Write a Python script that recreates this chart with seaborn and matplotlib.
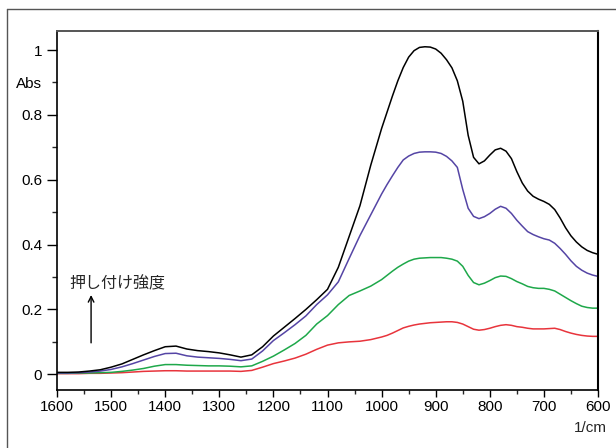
import matplotlib
matplotlib.use("Agg")
import numpy as np
import pandas as pd
import seaborn as sns
import matplotlib.pyplot as plt
from matplotlib.lines import Line2D

# 1600..1000 every 20 cm-1, then 990..600 every 10 cm-1
wavenumber = list(range(1600, 999, -20)) + list(range(990, 599, -10))

black = [0.006, 0.006, 0.007, 0.010, 0.014, 0.022, 0.032, 0.046, 0.060, 0.073,
         0.085, 0.087, 0.078, 0.073, 0.070, 0.066, 0.060, 0.053, 0.060, 0.085,
         0.118, 0.145, 0.172, 0.200, 0.230, 0.262, 0.330, 0.425, 0.520, 0.645,
         0.758,
         0.808, 0.858, 0.905, 0.946, 0.978, 0.998, 1.008, 1.010, 1.009, 1.003,
         0.990, 0.970, 0.945, 0.905, 0.842, 0.737, 0.669, 0.649, 0.658, 0.676,
         0.692, 0.697, 0.688, 0.665, 0.625, 0.590, 0.565, 0.549, 0.540, 0.533,
         0.524, 0.508, 0.482, 0.452, 0.427, 0.408, 0.393, 0.382, 0.375, 0.370]

blue = [0.004, 0.004, 0.005, 0.007, 0.010, 0.015, 0.023, 0.033, 0.044, 0.055,
        0.064, 0.065, 0.057, 0.053, 0.051, 0.049, 0.046, 0.042, 0.047, 0.072,
        0.104, 0.128, 0.153, 0.180, 0.215, 0.245, 0.285, 0.357, 0.428, 0.492,
        0.556,
        0.585, 0.612, 0.638, 0.661, 0.673, 0.681, 0.685, 0.686, 0.686, 0.685,
        0.681, 0.672, 0.658, 0.638, 0.570, 0.512, 0.487, 0.480, 0.486, 0.496,
        0.509, 0.518, 0.512, 0.496, 0.475, 0.457, 0.440, 0.431, 0.424, 0.418,
        0.414, 0.404, 0.388, 0.370, 0.350, 0.333, 0.321, 0.312, 0.306, 0.302]

green = [0.003, 0.003, 0.004, 0.004, 0.005, 0.006, 0.009, 0.013, 0.018, 0.025,
         0.030, 0.030, 0.028, 0.027, 0.026, 0.026, 0.025, 0.023, 0.026, 0.040,
         0.056, 0.075, 0.095, 0.120, 0.155, 0.181, 0.215, 0.243, 0.257, 0.272,
         0.292,
         0.305, 0.318, 0.330, 0.340, 0.349, 0.355, 0.358, 0.359, 0.360, 0.360,
         0.360, 0.358, 0.355, 0.349, 0.333, 0.305, 0.283, 0.276, 0.281, 0.289,
         0.298, 0.303, 0.302, 0.295, 0.286, 0.279, 0.271, 0.267, 0.265, 0.265,
         0.262, 0.257, 0.247, 0.237, 0.227, 0.218, 0.210, 0.206, 0.204, 0.204]

red = [0.002, 0.002, 0.002, 0.003, 0.003, 0.004, 0.005, 0.007, 0.009, 0.010,
       0.011, 0.011, 0.010, 0.010, 0.010, 0.010, 0.010, 0.009, 0.012, 0.022,
       0.033, 0.041, 0.050, 0.062, 0.077, 0.090, 0.097, 0.100, 0.102, 0.107,
       0.115,
       0.120, 0.127, 0.135, 0.143, 0.148, 0.152, 0.155, 0.157, 0.159, 0.160,
       0.161, 0.162, 0.162, 0.160, 0.155, 0.147, 0.139, 0.136, 0.138, 0.142,
       0.147, 0.151, 0.153, 0.151, 0.147, 0.145, 0.142, 0.140, 0.140, 0.140,
       0.141, 0.142, 0.138, 0.132, 0.127, 0.123, 0.120, 0.118, 0.117, 0.117]

series_names = ["red", "green", "blue", "black"]
series_colors = {"black": "#000000", "blue": "#5545a5", "green": "#1ea84a", "red": "#e8343c"}

xticks = [1600, 1500, 1400, 1300, 1200, 1100, 1000, 900, 800, 700, 600]
yticks = [0, 0.2, 0.4, 0.6, 0.8, 1]
ytick_labels = ["0", "0.2", "0.4", "0.6", "0.8", "1"]
annotation_text = "押し付け強度"
y_unit = "Abs"
x_unit = "1/cm"

frames = []
for name, vals in zip(["black", "blue", "green", "red"], [black, blue, green, red]):
    frames.append(pd.DataFrame({"wavenumber": wavenumber, "abs": vals, "series": name}))
df = pd.concat(frames, ignore_index=True)

sns.set_style("ticks")
plt.rcParams['font.family'] = ['Liberation Sans', 'Noto Sans CJK JP', 'DejaVu Sans']

fig = plt.figure(figsize=(6.16, 4.48), dpi=100)
W, H = 616, 448
ax = fig.add_axes([57 / W, (H - 390) / H, (598 - 57) / W, (390 - 31) / H])

sns.lineplot(data=df, x="wavenumber", y="abs", hue="series", hue_order=series_names,
             palette=series_colors, legend=False, ax=ax, linewidth=1.1,
             estimator=None, sort=False)

ax.set_xlim(1600, 600)
ax.set_ylim(-0.0484, 1.0586)
ax.set_xlabel("")
ax.set_ylabel("")

ax.set_xticks(xticks)
ax.set_xticklabels([str(t) for t in xticks])
ax.set_xticks([1550, 1450, 1350, 1250, 1150, 1050, 950, 850, 750, 650], minor=True)
ax.set_yticks(yticks)
ax.set_yticklabels(ytick_labels)
ax.set_yticks([0.1, 0.3, 0.5, 0.7, 0.9], minor=True)
ax.set_yticklabels(["", "", "", "", y_unit], minor=True)

ax.tick_params(axis='x', which='major', length=5, width=1, direction='out',
               labelsize=11, pad=2.5, colors='black')
ax.tick_params(axis='x', which='minor', length=2.8, width=1, direction='out')
ax.tick_params(axis='y', which='major', length=7, width=1, direction='out',
               labelsize=11, pad=3.6, colors='black')
ax.tick_params(axis='y', which='minor', length=3.6, width=1, direction='out',
               labelsize=11, pad=7.2, labelcolor='black')

for side in ["left", "bottom", "right"]:
    ax.spines[side].set_color("black")
    ax.spines[side].set_linewidth(1.2)
ax.spines["top"].set_color("#555555")
ax.spines["top"].set_linewidth(1.4)
ax.spines["right"].set_linewidth(1.5)

ax.annotate("", xy=(1537, 0.2445), xytext=(1537, 0.097),
            arrowprops=dict(arrowstyle='->', lw=1.0, color='black',
                            shrinkA=0, shrinkB=0, mutation_scale=10))
ax.text(1577, 0.280, annotation_text, ha='left', va='center', fontsize=11.5,
        family=['Noto Sans CJK JP', 'DejaVu Sans'])

fig.text(607 / W, 1 - 428 / H, x_unit, ha='right', va='center', fontsize=11)

fig.add_artist(Line2D([7 / W, 7 / W], [0, 1 - 9 / H], transform=fig.transFigure,
                      color="#555555", lw=1.0))
fig.add_artist(Line2D([7 / W, 1], [1 - 9 / H, 1 - 9 / H], transform=fig.transFigure,
                      color="#555555", lw=1.0))

fig.savefig("out.png", dpi=100)
